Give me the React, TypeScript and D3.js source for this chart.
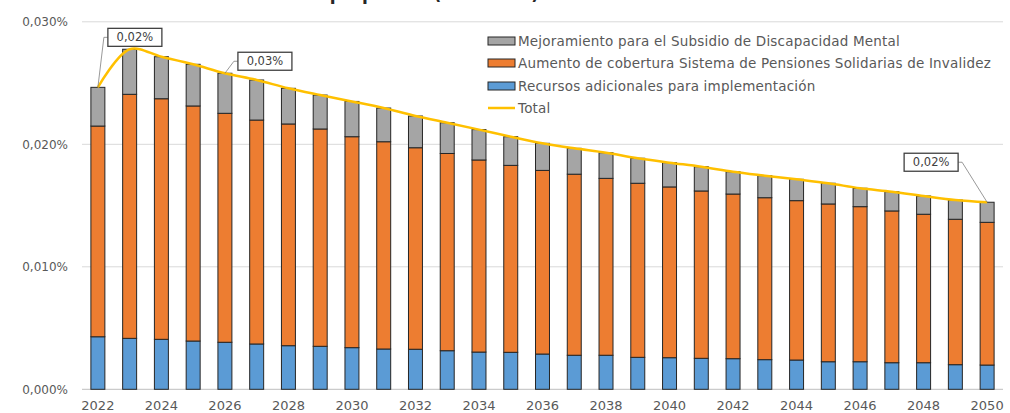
import React from "react";
import * as d3 from "d3";

const years = [
  2022, 2023, 2024, 2025, 2026, 2027, 2028, 2029, 2030, 2031, 2032, 2033, 2034, 2035, 2036,
  2037, 2038, 2039, 2040, 2041, 2042, 2043, 2044, 2045, 2046, 2047, 2048, 2049, 2050,
];

// values in % of GDP
const recursos = [
  0.00429, 0.00416, 0.00408, 0.00394, 0.00384, 0.0037, 0.00356, 0.00351, 0.0034, 0.00329,
  0.00327, 0.00315, 0.00304, 0.00302, 0.00288, 0.00278, 0.00278, 0.00261, 0.00258, 0.00253,
  0.0025, 0.00242, 0.00239, 0.00225, 0.00225, 0.00217, 0.00217, 0.00201, 0.00198,
];
const aumento = [
  0.0172, 0.01992, 0.01964, 0.01919, 0.01869, 0.01828, 0.0181, 0.01774, 0.01722, 0.01692,
  0.01645, 0.0161, 0.01568, 0.01526, 0.01499, 0.01478, 0.01444, 0.01421, 0.01394, 0.01366,
  0.01344, 0.01322, 0.01301, 0.01288, 0.01266, 0.01239, 0.01212, 0.01187, 0.01165,
];
const mejoramiento = [
  0.00316, 0.00368, 0.00343, 0.0034, 0.00327, 0.00327, 0.00291, 0.00277, 0.00288, 0.00275,
  0.00259, 0.00251, 0.00248, 0.00234, 0.00221, 0.00211, 0.00209, 0.00204, 0.00198, 0.00198,
  0.00182, 0.0018, 0.00174, 0.00169, 0.0015, 0.00157, 0.00149, 0.00157, 0.00164,
];

const yTicks = [0, 0.01, 0.02, 0.03];
const xTickYears = [2022, 2024, 2026, 2028, 2030, 2032, 2034, 2036, 2038, 2040, 2042, 2044, 2046, 2048, 2050];

const seriesNames = [
  "Mejoramiento para el Subsidio de Discapacidad Mental",
  "Aumento de cobertura Sistema de Pensiones Solidarias de Invalidez",
  "Recursos adicionales para implementación",
  "Total",
];
const labeledYears = [2022, 2026, 2050];
const titleText = "Costo fiscal de la propuesta (% del PIB)";

const W = 1010;
const H = 413;
const FONT = "'DejaVu Sans', sans-serif";
const TEXT = "#595959";
const C_GRAY = "#a5a5a5";
const C_ORANGE = "#ed7d31";
const C_BLUE = "#5b9bd5";
const C_TOTAL = "#ffc000";
const EDGE = "#262626";

function fmtPct(v: number, digits: number) {
  return v.toFixed(digits).replace(".", ",") + "%";
}

export default function App() {
  const x = d3.scaleBand<number>().domain(years).range([82, 1003]).paddingInner(0.56).paddingOuter(0.28);
  const y = d3.scaleLinear().domain([0, 0.03]).range([389.3, 21.8]);

  const rows = years.map((yr, i) => ({
    year: yr,
    recursos: recursos[i],
    aumento: aumento[i],
    mejoramiento: mejoramiento[i],
  }));
  const stack = d3.stack<any>().keys(["recursos", "aumento", "mejoramiento"]);
  const layers = stack(rows);
  const colors: Record<string, string> = { recursos: C_BLUE, aumento: C_ORANGE, mejoramiento: C_GRAY };

  const totals = rows.map((r) => r.recursos + r.aumento + r.mejoramiento);
  const cx = (yr: number) => (x(yr) as number) + x.bandwidth() / 2;
  const line = d3
    .line<number>()
    .x((_, i) => cx(years[i]))
    .y((d) => y(d))
    .curve(d3.curveCatmullRom.alpha(0.5));

  const labelOffsets: Record<number, [number, number]> = {
    2022: [37, -50],
    2026: [40, -12],
    2050: [-56, -40],
  };

  const legendX = 488;
  const legendY = [41, 63, 86, 108];

  return (
    <svg
      width={W}
      height={H}
      style={{ position: "absolute", left: 0, top: 0, background: "#fff" }}
      fontFamily={FONT}
    >
      <rect x={0} y={0} width={W} height={H} fill="#fff" />
      <text x={350} y={-0.5} textAnchor="middle" fontSize={17} fontWeight="bold" fill="#262626">
        {titleText}
      </text>
      {yTicks.map((t) => (
        <g key={t}>
          <line x1={82} x2={1003} y1={y(t)} y2={y(t)} stroke={t === 0 ? "#bfbfbf" : "#d9d9d9"} strokeWidth={1} />
          <text x={68} y={y(t)} dy="0.35em" textAnchor="end" fontSize={12} fill={TEXT}>
            {fmtPct(t, 3)}
          </text>
        </g>
      ))}
      {xTickYears.map((yr) => (
        <text key={yr} x={cx(yr)} y={405} dy="0.35em" textAnchor="middle" fontSize={13} fill={TEXT}>
          {yr}
        </text>
      ))}
      {layers.map((layer) => (
        <g key={layer.key}>
          {layer.map((d, i) => (
            <rect
              key={i}
              x={x(years[i])}
              y={y(d[1])}
              width={x.bandwidth()}
              height={y(d[0]) - y(d[1])}
              fill={colors[layer.key as string]}
              stroke={EDGE}
              strokeWidth={1}
            />
          ))}
        </g>
      ))}
      <path d={line(totals) || ""} fill="none" stroke={C_TOTAL} strokeWidth={2.5} />
      {labeledYears.map((yr) => {
        const i = years.indexOf(yr);
        const px = cx(yr);
        const py = y(totals[i]);
        const [ox, oy] = labelOffsets[yr];
        const bx = px + ox;
        const by = py + oy;
        const bw = 54;
        const bh = 18;
        const edgeX = ox > 0 ? bx - bw / 2 : bx + bw / 2;
        return (
          <g key={yr}>
            <polyline
              points={`${edgeX},${by} ${edgeX + (ox > 0 ? -4 : 4)},${by} ${px},${py}`}
              fill="none"
              stroke="#7f7f7f"
              strokeWidth={0.8}
            />
            <rect x={bx - bw / 2} y={by - bh / 2} width={bw} height={bh} fill="#fff" stroke="#404040" strokeWidth={1.3} />
            <text x={bx} y={by} dy="0.35em" textAnchor="middle" fontSize={11.5} fill="#404040">
              {fmtPct(totals[i], 2)}
            </text>
          </g>
        );
      })}
      {seriesNames.map((name, k) => (
        <g key={name}>
          {k < 3 ? (
            <rect
              x={legendX}
              y={legendY[k] - 4}
              width={27}
              height={8}
              fill={[C_GRAY, C_ORANGE, C_BLUE][k]}
              stroke={EDGE}
              strokeWidth={1}
            />
          ) : (
            <line x1={legendX} x2={legendX + 27} y1={legendY[k]} y2={legendY[k]} stroke={C_TOTAL} strokeWidth={2.5} />
          )}
          <text x={legendX + 30} y={legendY[k]} dy="0.35em" fontSize={13.5} letterSpacing={0.2} fill={TEXT}>
            {name}
          </text>
        </g>
      ))}
    </svg>
  );
}
